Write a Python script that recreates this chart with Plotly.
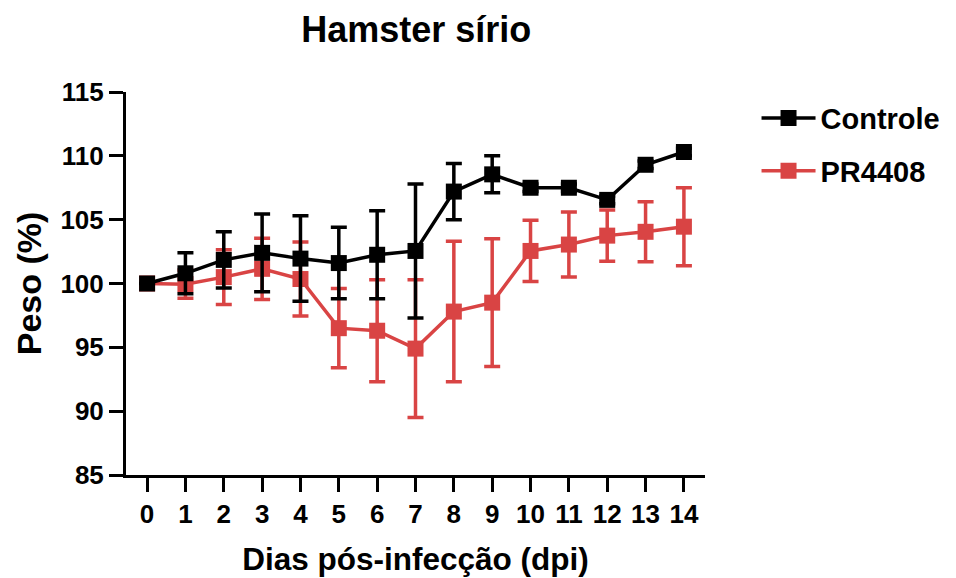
import plotly.graph_objects as go

days = list(range(15))
tick_labels = [str(d) for d in days]
y_ticks = [85, 90, 95, 100, 105, 110, 115]

controle_mean = [100.0, 100.8, 101.85, 102.4, 101.95, 101.6, 102.25, 102.55, 107.2, 108.55, 107.5, 107.5, 106.55, 109.3, 110.3]
controle_err = [0.0, 1.6, 2.2, 3.05, 3.35, 2.8, 3.45, 5.25, 2.2, 1.45, 0.3, 0.3, 0.3, 0.3, 0.3]

pr_mean = [100.0, 99.95, 100.5, 101.15, 100.35, 96.5, 96.3, 94.9, 97.8, 98.5, 102.55, 103.05, 103.75, 104.05, 104.45]
pr_err = [0.0, 1.1, 2.15, 2.4, 2.9, 3.1, 4.0, 5.4, 5.5, 5.0, 2.4, 2.55, 2.0, 2.35, 3.05]

RED = "#D94444"
BLACK = "#000000"
FONT = "Liberation Sans, Arial, Helvetica, sans-serif"

fig = go.Figure()

fig.add_trace(go.Scatter(
    x=days, y=pr_mean, name="PR4408", mode="lines+markers",
    line=dict(color=RED, width=3.5),
    marker=dict(symbol="square", size=16, color=RED),
    error_y=dict(type="data", array=pr_err, visible=True, color=RED, thickness=3.5, width=8),
    legendgroup="b", legendrank=2,
))
fig.add_trace(go.Scatter(
    x=days, y=controle_mean, name="Controle", mode="lines+markers",
    line=dict(color=BLACK, width=3.5),
    marker=dict(symbol="square", size=16, color=BLACK),
    error_y=dict(type="data", array=controle_err, visible=True, color=BLACK, thickness=3.5, width=8),
    legendgroup="a", legendrank=1,
))

fig.update_layout(
    width=956, height=578,
    margin=dict(l=118, r=259, t=84, b=111),
    paper_bgcolor="white", plot_bgcolor="white",
    font=dict(family=FONT, color="black"),
    title=dict(text="Hamster sírio", xref="container", x=0.427, xanchor="center",
               yref="container", y=0.963, yanchor="middle",
               font=dict(size=36, family=FONT, color="black", weight="bold")),
    showlegend=True,
    legend=dict(x=1.089, xanchor="left", y=0.998, yanchor="top",
                font=dict(size=29, family=FONT, color="black", weight="bold"),
                itemwidth=54, tracegroupgap=12, traceorder="grouped",
                bgcolor="rgba(0,0,0,0)"),
    xaxis=dict(
        range=[-0.55, 14.55], tickmode="array", tickvals=days, ticktext=tick_labels,
        showline=True, linecolor="black", linewidth=3,
        ticks="outside", ticklen=14, tickwidth=3, tickcolor="black",
        showgrid=False, zeroline=False,
        tickfont=dict(size=26, family=FONT, color="black", weight="bold"),
        title=dict(text="Dias pós-infecção (dpi)", font=dict(size=31.5, family=FONT, color="black", weight="bold"), standoff=20),
    ),
    yaxis=dict(
        range=[85, 115], tickmode="array", tickvals=y_ticks,
        showline=True, linecolor="black", linewidth=3,
        ticks="outside", ticklen=14, tickwidth=3, tickcolor="black",
        showgrid=False, zeroline=False,
        tickfont=dict(size=26, family=FONT, color="black", weight="bold"),
        title=dict(text="Peso (%)", font=dict(size=34, family=FONT, color="black", weight="bold"), standoff=9),
    ),
)

fig.write_html("out.html")
